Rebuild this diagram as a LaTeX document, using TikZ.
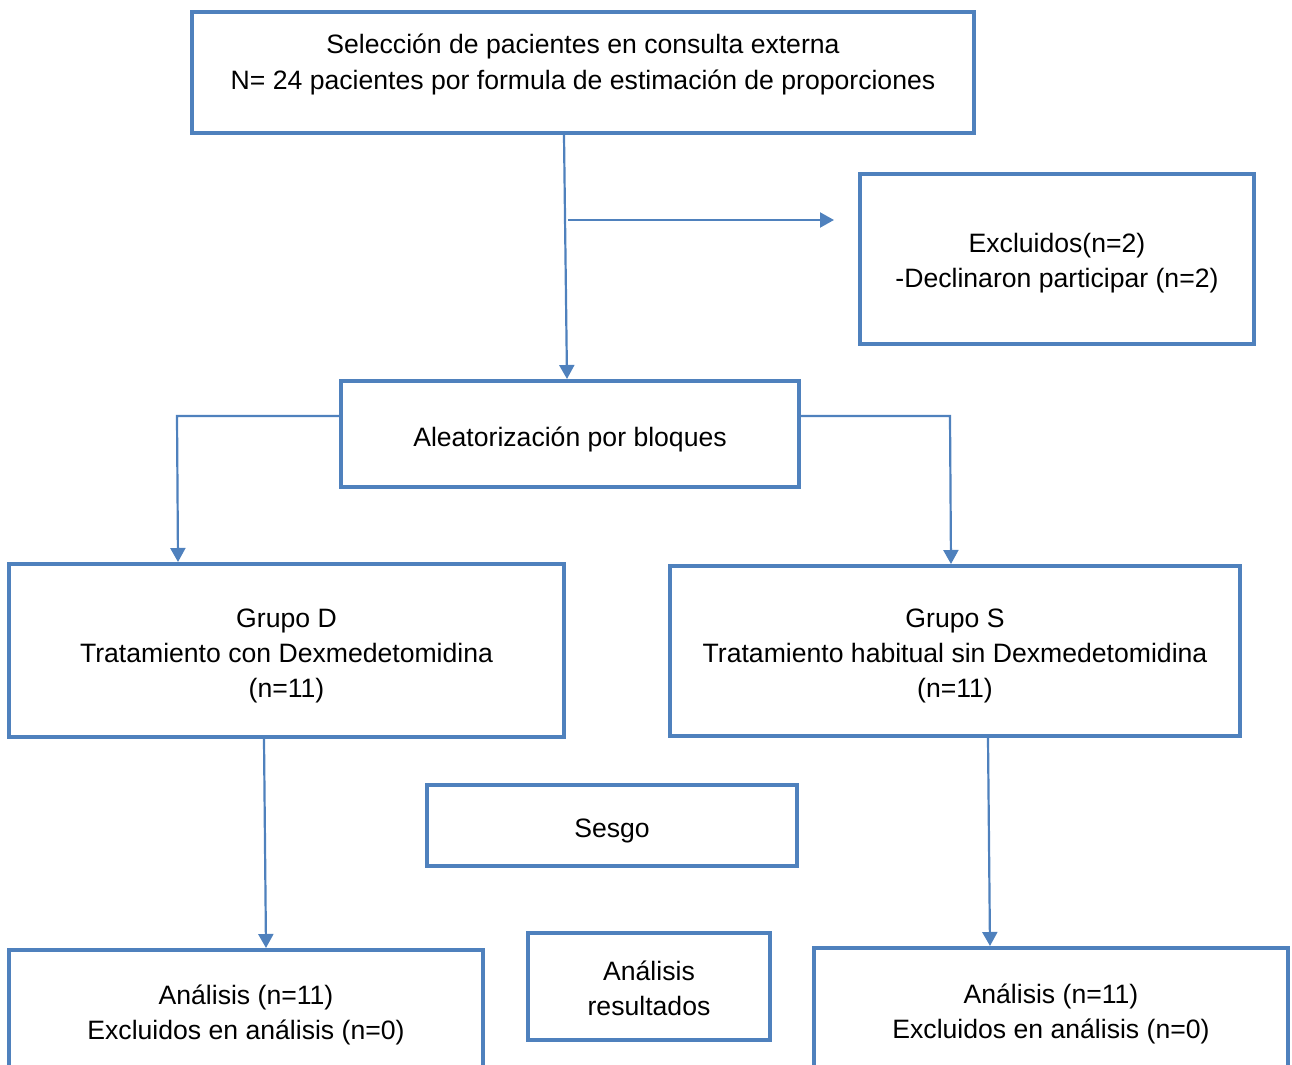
\documentclass[tikz,border=0pt]{standalone}
\usepackage{fontspec}
\setmainfont{Liberation Sans}
\usetikzlibrary{arrows.meta,calc}
\definecolor{boxblue}{RGB}{79,129,189}
\newcommand{\boxtxt}[2]{\raisebox{#1}[\height][\depth]{\begin{tabular}{@{}c@{}}#2\end{tabular}}}
\begin{document}
\begin{tikzpicture}[x=0.5pt,y=-0.5pt,
  box/.style={draw=boxblue,line width=2pt,rectangle,inner sep=0pt,
    font=\fontsize{13.3}{17.5}\selectfont,text=black},
  conn/.style={draw=boxblue,line width=1.1pt,-{Triangle[length=7pt,width=7.5pt]}}]
\useasboundingbox (0,0) rectangle (1292,1065);
\node[box,minimum width=391pt,minimum height=60.5pt] (top) at (583,72.5)
  {\boxtxt{4pt}{Selección de pacientes en consulta externa\\N= 24 pacientes por formula de estimación de proporciones}};
\node[box,minimum width=197pt,minimum height=85pt] (excl) at (1057,259)
  {\boxtxt{-2.25pt}{Excluidos(n=2)\\-Declinaron participar (n=2)}};
\node[box,minimum width=229pt,minimum height=53pt] (alea) at (570,434)
  {\boxtxt{-2.5pt}{Aleatorización por bloques}};
\node[box,minimum width=277.5pt,minimum height=86.5pt] (gD) at (286.5,650.5)
  {\boxtxt{-2.5pt}{Grupo D\\Tratamiento con Dexmedetomidina\\(n=11)}};
\node[box,minimum width=285pt,minimum height=85pt] (gS) at (955,651)
  {\boxtxt{-2pt}{Grupo S\\Tratamiento habitual sin Dexmedetomidina\\(n=11)}};
\node[box,minimum width=185pt,minimum height=40.5pt] (sesgo) at (612,825.5)
  {\boxtxt{-2.5pt}{Sesgo}};
\node[box,minimum width=121pt,minimum height=53.5pt] (res) at (649,986.5)
  {\boxtxt{-2pt}{Análisis\\resultados}};
\node[box,minimum width=237pt,minimum height=62pt] (bL) at (246,1012)
  {\boxtxt{-1.5pt}{Análisis (n=11)\\Excluidos en análisis (n=0)}};
\node[box,minimum width=237pt,minimum height=63pt] (bR) at (1051,1011)
  {\boxtxt{-1.25pt}{Análisis (n=11)\\Excluidos en análisis (n=0)}};
% connectors
\draw[conn] ($(top.south)+(-19,0)$) -- ($(alea.north)+(-3,0)$);
\coordinate (exa) at (568,220);
\draw[conn] (exa) -- ($(excl.west)+(-24,-39)$);
\coordinate (lc) at (177,416);
\draw[conn] ($(alea.west)+(0,-18)$) -- (lc) -- ($(gD.north)+(-108.5,0)$);
\coordinate (rc) at (950,416);
\draw[conn] ($(alea.east)+(-4,-18)$) -- (rc) -- ($(gS.north)+(-4,0)$);
\draw[conn] ($(gD.south)+(-22.5,0)$) -- ($(bL.north)+(20,0)$);
\draw[conn] ($(gS.south)+(33,0)$) -- ($(bR.north)+(-61,0)$);
\end{tikzpicture}
\end{document}
